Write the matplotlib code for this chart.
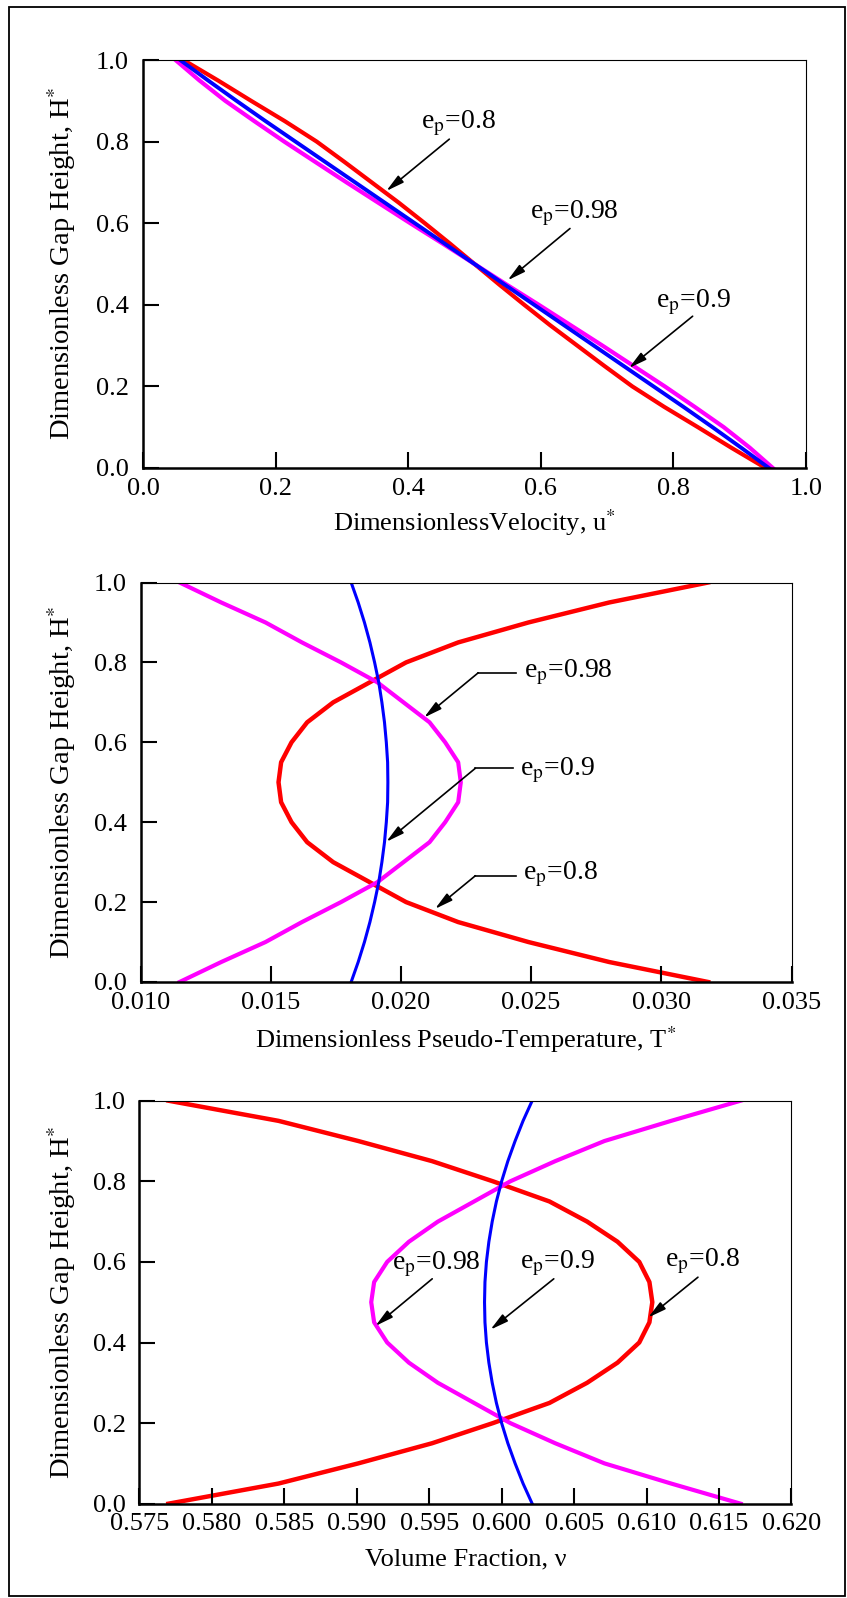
import matplotlib
matplotlib.use("Agg")
import matplotlib.pyplot as plt
from matplotlib.patches import Rectangle

plt.rcParams['font.family'] = ['Liberation Serif', 'DejaVu Serif']
plt.rcParams['mathtext.fontset'] = 'stix'

# Gap height (shared)
h = [1.0, 0.95, 0.9, 0.85, 0.8, 0.75, 0.7, 0.65, 0.6, 0.55, 0.5,
     0.45, 0.4, 0.35, 0.3, 0.25, 0.2, 0.15, 0.1, 0.05, 0.0]

# Panel 1: velocity
u_08 = [0.061, 0.113, 0.163, 0.214, 0.262, 0.304, 0.345, 0.386, 0.425, 0.463, 0.500,
        0.537, 0.575, 0.614, 0.655, 0.696, 0.738, 0.786, 0.837, 0.887, 0.939]
u_09 = [0.056, 0.098, 0.141, 0.185, 0.230, 0.275, 0.320, 0.365, 0.410, 0.455, 0.500,
        0.545, 0.590, 0.635, 0.680, 0.725, 0.770, 0.815, 0.859, 0.902, 0.944]
u_098 = [0.049, 0.085, 0.124, 0.168, 0.213, 0.260, 0.307, 0.355, 0.403, 0.452, 0.500,
         0.548, 0.597, 0.645, 0.693, 0.740, 0.787, 0.832, 0.876, 0.915, 0.950]

# Panel 2: pseudo-temperature
T_08 = [0.0318, 0.0280, 0.0249, 0.0222, 0.0202, 0.0188, 0.0174, 0.0164, 0.0158, 0.0154, 0.0153,
        0.0154, 0.0158, 0.0164, 0.0174, 0.0188, 0.0202, 0.0222, 0.0249, 0.0280, 0.0318]
T_09 = [0.01809, 0.01836, 0.01860, 0.01881, 0.01899, 0.01915, 0.01927, 0.01937, 0.01944, 0.01949, 0.01950,
        0.01949, 0.01944, 0.01937, 0.01927, 0.01915, 0.01899, 0.01881, 0.01860, 0.01836, 0.01809]
T_098 = [0.0115, 0.0131, 0.0148, 0.0162, 0.0177, 0.0191, 0.0201, 0.0211, 0.0217, 0.0222, 0.0223,
         0.0222, 0.0217, 0.0211, 0.0201, 0.0191, 0.0177, 0.0162, 0.0148, 0.0131, 0.0115]

# Panel 3: volume fraction
v_08 = [0.5770, 0.5846, 0.5901, 0.5952, 0.5994, 0.6033, 0.6059, 0.6080, 0.6095, 0.6102, 0.6104,
        0.6102, 0.6095, 0.6080, 0.6059, 0.6033, 0.5994, 0.5952, 0.5901, 0.5846, 0.5770]
v_09 = [0.60211, 0.60148, 0.60093, 0.60043, 0.60000, 0.59964, 0.59935, 0.59912, 0.59895, 0.59885, 0.59882,
        0.59885, 0.59895, 0.59912, 0.59935, 0.59964, 0.60000, 0.60043, 0.60093, 0.60148, 0.60211]
v_098 = [0.6165, 0.6117, 0.6071, 0.6037, 0.6006, 0.5981, 0.5956, 0.5936, 0.5921, 0.5912, 0.5910,
         0.5912, 0.5921, 0.5936, 0.5956, 0.5981, 0.6006, 0.6037, 0.6071, 0.6117, 0.6165]

ylabel = 'Dimensionless Gap Height, H$^{*}$'
FS = 19
W, H = 847, 1598


def style_axes(ax, xlim, xticks, xfmt):
    ax.set_xlim(*xlim)
    ax.set_ylim(0, 1)
    ax.set_xticks(xticks)
    ax.set_xticklabels([xfmt.format(t) for t in xticks])
    ax.set_yticks([0, 0.2, 0.4, 0.6, 0.8, 1.0])
    ax.set_yticklabels(['0.0', '0.2', '0.4', '0.6', '0.8', '1.0'])
    ax.set_axisbelow(False)
    ax.tick_params(which='major', direction='in', length=11.5, width=1.5,
                   labelsize=FS, color='black', bottom=True, left=True)
    ax.tick_params(axis='y', pad=10)
    ax.tick_params(axis='x', pad=7)
    for s in ['left', 'bottom']:
        ax.spines[s].set_linewidth(1.8)
    for s in ['top', 'right']:
        ax.spines[s].set_linewidth(0.8)


def force_ticks(ax):
    # make sure the inward tick marks are drawn
    for t in ax.xaxis.get_major_ticks() + ax.yaxis.get_major_ticks():
        t.tick1line.set_visible(True)
        t.tick1line.set_markersize(11.5)
        t.tick1line.set_markeredgewidth(1.5)
        t.tick1line.set_markeredgecolor('black')
        t.tick1line.set_zorder(5)


def arrow(ax, start, tip, knee=None):
    # optional horizontal leader before the arrow
    if knee is not None:
        ax.plot([start[0], knee[0]], [start[1], knee[1]], color='black', lw=1.2)
        start = knee
    ax.annotate('', xy=tip, xytext=start,
                arrowprops=dict(arrowstyle='-|>,head_length=0.9,head_width=0.22',
                                color='black', lw=1.2, shrinkA=0, shrinkB=0,
                                mutation_scale=12))


def label(ax, x, y, val):
    ax.text(x, y, 'e$_{\\mathrm{p}}$=' + val, fontsize=FS + 1, ha='left', va='baseline')


fig = plt.figure(figsize=(W / 100, H / 100), dpi=100)
fig.add_artist(Rectangle((9 / W, 1 - 1596 / H), 836 / W, 1589 / H,
                         transform=fig.transFigure, fill=False, lw=1.3, color='black'))

# ---- Panel 1 ----
ax1 = fig.add_axes([143 / W, 1 - 468 / H, 663 / W, 408 / H])
ax1.plot(u_08, h, color='red', lw=3)
ax1.plot(u_098, h, color='magenta', lw=3)
ax1.plot(u_09, h, color='blue', lw=2.8)
style_axes(ax1, (0, 1), [0, 0.2, 0.4, 0.6, 0.8, 1.0], '{:.1f}')
ax1.set_xlabel('DimensionlessVelocity, u$^{*}$', fontsize=FS)
ax1.set_ylabel(ylabel, fontsize=FS + 1.5)
label(ax1, 0.42, 0.832, '0.8')
arrow(ax1, (0.462, 0.806), (0.367, 0.679))
label(ax1, 0.583, 0.611, '0.98')
arrow(ax1, (0.644, 0.587), (0.550, 0.460))
label(ax1, 0.774, 0.394, '0.9')
arrow(ax1, (0.829, 0.372), (0.733, 0.245))
ax1.xaxis.set_label_coords(0.5, -0.154)
ax1.yaxis.set_label_coords(-0.098, 0.5)

# ---- Panel 2 ----
ax2 = fig.add_axes([140.5 / W, 1 - 982 / H, 651 / W, 399.5 / H])
ax2.plot(T_08, h, color='red', lw=3.2)
ax2.plot(T_098, h, color='magenta', lw=3)
ax2.plot(T_09, h, color='blue', lw=2.2)
style_axes(ax2, (0.010, 0.035), [0.010, 0.015, 0.020, 0.025, 0.030, 0.035], '{:.3f}')
ax2.set_xlabel('Dimensionless Pseudo-Temperature, T$^{*}$', fontsize=FS)
ax2.set_ylabel(ylabel, fontsize=FS + 1.5)
label(ax2, 0.02473, 0.762, '0.98')
arrow(ax2, (0.02442, 0.774), (0.02089, 0.662), knee=(0.02297, 0.774))
label(ax2, 0.02456, 0.517, '0.9')
arrow(ax2, (0.02431, 0.535), (0.01944, 0.351), knee=(0.02286, 0.535))
label(ax2, 0.02469, 0.256, '0.8')
arrow(ax2, (0.02442, 0.266), (0.02131, 0.183), knee=(0.02286, 0.266))
ax2.xaxis.set_label_coords(0.5, -0.164)
ax2.yaxis.set_label_coords(-0.096, 0.5)

# ---- Panel 3 ----
ax3 = fig.add_axes([139.4 / W, 1 - 1503.7 / H, 652 / W, 403 / H])
ax3.plot(v_08, h, color='red', lw=3.2)
ax3.plot(v_098, h, color='magenta', lw=3)
ax3.plot(v_09, h, color='blue', lw=2.2)
style_axes(ax3, (0.575, 0.620),
           [0.575, 0.580, 0.585, 0.590, 0.595, 0.600, 0.605, 0.610, 0.615, 0.620], '{:.3f}')
ax3.set_xlabel('Volume Fraction, ν', fontsize=FS)
ax3.set_ylabel(ylabel, fontsize=FS + 1.5)
label(ax3, 0.59241, 0.581, '0.98')
arrow(ax3, (0.59521, 0.558), (0.59129, 0.441))
label(ax3, 0.60125, 0.584, '0.9')
arrow(ax3, (0.60360, 0.558), (0.59923, 0.432))
label(ax3, 0.61131, 0.590, '0.8')
arrow(ax3, (0.61355, 0.562), (0.61012, 0.462))
ax3.xaxis.set_label_coords(0.5, -0.153)
ax3.yaxis.set_label_coords(-0.094, 0.5)

for ax in (ax1, ax2, ax3):
    ax.xaxis.label.set_va('baseline')
    force_ticks(ax)

fig.savefig('out.png', dpi=100)
